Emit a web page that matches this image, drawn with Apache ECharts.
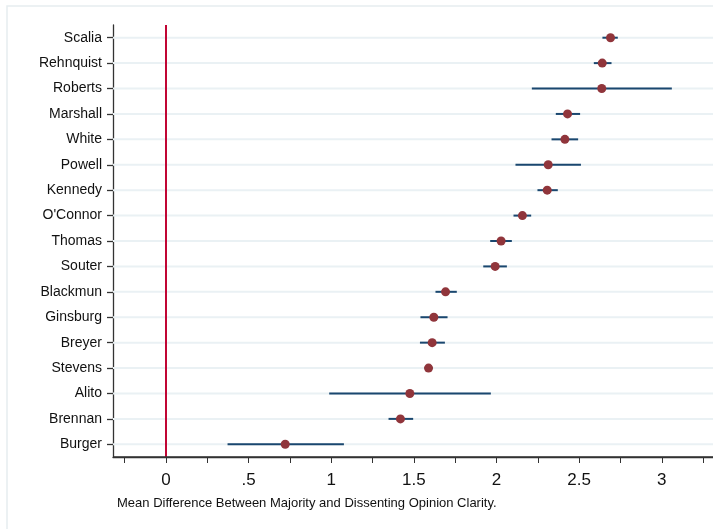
<!DOCTYPE html>
<html>
<head>
<meta charset="utf-8">
<script src="https://cdn.jsdelivr.net/npm/echarts@6/dist/echarts.min.js"></script>
<style>
  html, body { margin: 0; padding: 0; background: #fff; }
  #chart { width: 713px; height: 529px; }
</style>
</head>
<body>
<div id="chart"></div>
<script>
// justices, top to bottom
var justices = ['Scalia', 'Rehnquist', 'Roberts', 'Marshall', 'White', 'Powell', 'Kennedy',
  "O'Connor", 'Thomas', 'Souter', 'Blackmun', 'Ginsburg', 'Breyer', 'Stevens', 'Alito',
  'Brennan', 'Burger'];
var means = [2.69, 2.64, 2.637, 2.43, 2.414, 2.313, 2.307, 2.157, 2.028, 1.992, 1.692,
  1.621, 1.611, 1.589, 1.476, 1.419, 0.722];
var lower = [2.641, 2.589, 2.214, 2.359, 2.333, 2.115, 2.248, 2.103, 1.962, 1.92, 1.631,
  1.54, 1.537, 1.565, 0.988, 1.347, 0.373];
var upper = [2.734, 2.696, 3.061, 2.506, 2.494, 2.511, 2.371, 2.21, 2.093, 2.063, 1.76,
  1.704, 1.688, 1.613, 1.966, 1.496, 1.077];
var majorTicks = [0, 0.5, 1, 1.5, 2, 2.5, 3];
var minorTicks = [-0.25, 0, 0.25, 0.5, 0.75, 1, 1.25, 1.5, 1.75, 2, 2.25, 2.5, 2.75, 3, 3.25];

var chart = echarts.init(document.getElementById('chart'));

var ciData = justices.map(function (j, i) { return [lower[i], upper[i], j]; });
var ptData = justices.map(function (j, i) { return [means[i], j]; });

var option = {
  animation: false,
  textStyle: { fontFamily: 'Liberation Sans, Arial, sans-serif' },
  grid: { left: 113, right: 0, top: 25, bottom: 72 },
  xAxis: {
    type: 'value',
    position: 'bottom',
    min: -0.32,
    max: 3.31,
    axisLine: { show: true, onZero: false, lineStyle: { color: '#333', width: 1.3 } },
    axisTick: { show: true, customValues: minorTicks, length: 6, lineStyle: { color: '#333' } },
    axisLabel: {
      customValues: majorTicks,
      color: '#111',
      fontSize: 17,
      margin: 15,
      formatter: function (v) {
        var s = String(v);
        return s.indexOf('0.') === 0 ? s.slice(1) : s;
      }
    },
    splitLine: { show: false }
  },
  yAxis: {
    type: 'category',
    data: justices,
    inverse: true,
    axisLine: { show: true, onZero: false, lineStyle: { color: '#333', width: 1.3 } },
    axisTick: { show: true, alignWithLabel: true, length: 6, lineStyle: { color: '#333', width: 1.3 } },
    axisLabel: { color: '#111', fontSize: 14, margin: 11 },
    splitLine: { show: false }
  },
  graphic: [
    {
      type: 'rect',
      shape: { x: 7, y: 6, width: 720, height: 540 },
      style: { fill: 'none', stroke: '#e6edf0', lineWidth: 1.5 },
      z: -10
    },
    {
      type: 'text',
      left: 117,
      top: 497,
      style: {
        text: 'Mean Difference Between Majority and Dissenting Opinion Clarity.',
        fontSize: 13,
        fill: '#111',
        fontFamily: 'Liberation Sans, Arial, sans-serif'
      }
    }
  ],
  series: [
    {
      // light horizontal guide lines across each row
      type: 'custom',
      data: justices.map(function (j) { return [j]; }),
      encode: { y: 0 },
      z: 1,
      silent: true,
      renderItem: function (params, api) {
        var y = api.coord([0, api.value(0)])[1];
        return {
          type: 'line',
          shape: { x1: params.coordSys.x, y1: y, x2: params.coordSys.x + params.coordSys.width, y2: y },
          style: { stroke: '#eaf1f4', lineWidth: 2 }
        };
      }
    },
    {
      // bottom frame line of the plot region
      type: 'custom',
      data: [[0]],
      z: 5,
      silent: true,
      clip: false,
      renderItem: function (params, api) {
        var cs = params.coordSys;
        return {
          type: 'line',
          shape: { x1: cs.x, y1: cs.y + cs.height, x2: cs.x + cs.width, y2: cs.y + cs.height },
          style: { stroke: '#333', lineWidth: 1.3 }
        };
      }
    },
    {
      type: 'custom',
      data: ciData,
      encode: { x: [0, 1], y: 2 },
      z: 3,
      renderItem: function (params, api) {
        var a = api.coord([api.value(0), api.value(2)]);
        var b = api.coord([api.value(1), api.value(2)]);
        return {
          type: 'line',
          shape: { x1: a[0], y1: a[1], x2: b[0], y2: b[1] },
          style: { stroke: '#1a476f', lineWidth: 2 }
        };
      }
    },
    {
      type: 'scatter',
      data: ptData,
      symbolSize: 9,
      z: 4,
      itemStyle: { color: '#90353b', opacity: 1 },
      markLine: {
        silent: true,
        symbol: 'none',
        label: { show: false },
        lineStyle: { color: '#c10534', width: 2, type: 'solid' },
        data: [{ xAxis: 0 }]
      }
    }
  ]
};

chart.setOption(option);
</script>
</body>
</html>
